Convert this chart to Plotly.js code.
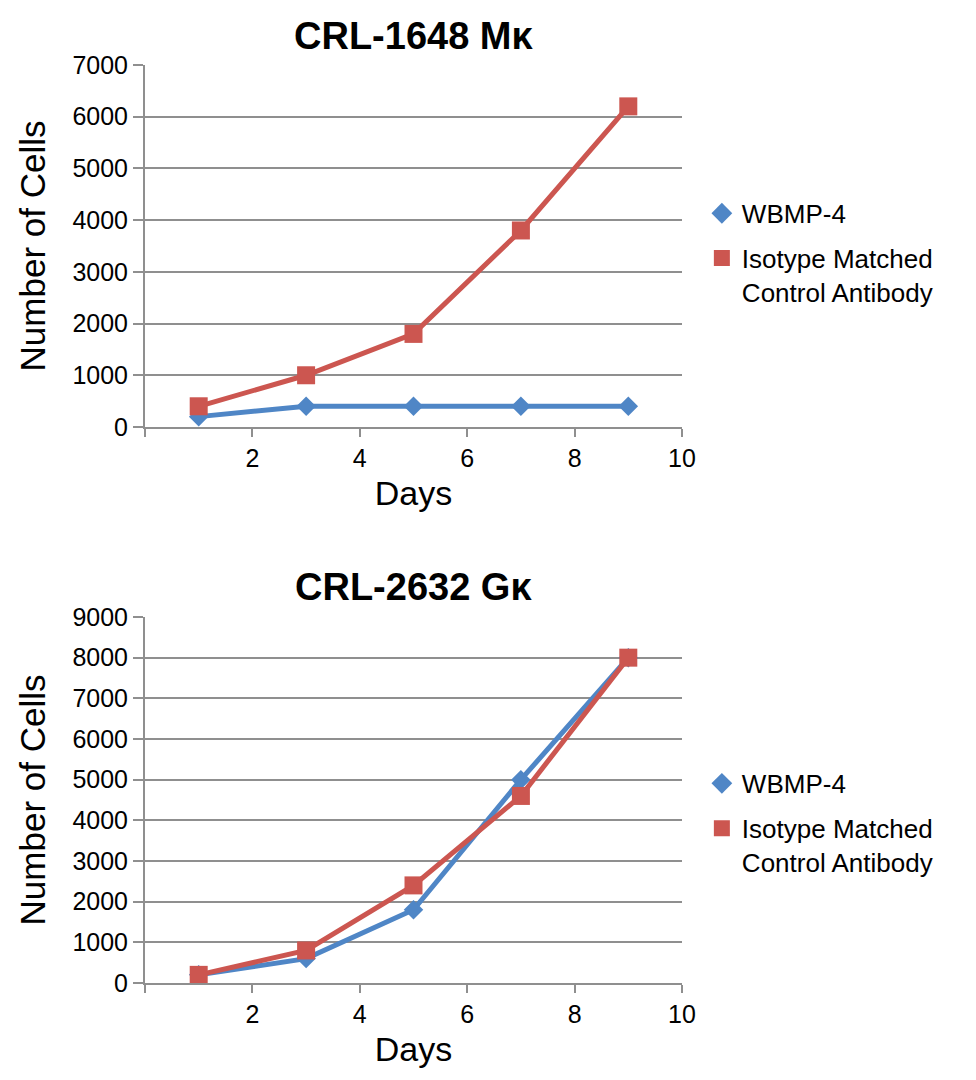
<!DOCTYPE html>
<html>
<head>
<meta charset="utf-8">
<script src="https://cdn.plot.ly/plotly-3.0.1.min.js"></script>
<style>html,body{margin:0;padding:0;background:#fff;}#chart{width:976px;height:1080px;}</style>
</head>
<body>
<div id="chart"></div>
<script>
// ---- data ----
var days = [1, 3, 5, 7, 9];
var seriesNames = ["WBMP-4", "Isotype Matched<br>Control Antibody"];
var panelTitles = ["CRL-1648 M\u03ba", "CRL-2632 G\u03ba"];
var crl1648_wbmp4 = [200, 400, 400, 400, 400];
var crl1648_isotype = [400, 1000, 1800, 3800, 6200];
var crl2632_wbmp4 = [200, 600, 1800, 5000, 8000];
var crl2632_isotype = [200, 800, 2400, 4600, 8000];
var xTickVals = [0, 2, 4, 6, 8, 10];
var xTickText = ["", "2", "4", "6", "8", "10"];
var xAxisTitle = "Days";
var yAxisTitle = "Number of Cells";

// ---- styles ----
var FONT = '"Liberation Sans", Arial, sans-serif';
var BLUE = "#4F86C6";
var RED = "#CC5650";
var GRID = "#8f8f8f";

function lineTrace(y, color, symbol, size, xa, ya) {
  return {
    x: days, y: y, xaxis: xa, yaxis: ya, type: "scatter", mode: "lines+markers",
    line: {color: color, width: 5},
    marker: {color: color, symbol: symbol, size: size},
    showlegend: false, hoverinfo: "x+y"
  };
}
function legendTrace(name, color, symbol, xa, ya, leg, grp) {
  return {
    x: [null], y: [null], xaxis: xa, yaxis: ya, type: "scatter", mode: "markers",
    name: name, marker: {color: color, symbol: symbol, size: 16},
    legend: leg, legendgroup: grp, showlegend: true
  };
}

var data = [
  lineTrace(crl1648_wbmp4, BLUE, "diamond", 15, "x", "y"),
  lineTrace(crl1648_isotype, RED, "square", 18, "x", "y"),
  lineTrace(crl2632_wbmp4, BLUE, "diamond", 15, "x2", "y2"),
  lineTrace(crl2632_isotype, RED, "square", 18, "x2", "y2"),
  legendTrace(seriesNames[0], BLUE, "diamond", "x", "y", "legend", "a"),
  legendTrace(seriesNames[1], RED, "square", "x", "y", "legend", "b"),
  legendTrace(seriesNames[0], BLUE, "diamond", "x2", "y2", "legend2", "c"),
  legendTrace(seriesNames[1], RED, "square", "x2", "y2", "legend2", "d")
];

function xAxis(anchor) {
  return {
    anchor: anchor, domain: [0, 1], range: [0, 10],
    tickmode: "array", tickvals: xTickVals, ticktext: xTickText,
    ticks: "outside", ticklen: 8, tickwidth: 2, tickcolor: GRID,
    showline: true, linecolor: GRID, linewidth: 2,
    showgrid: false, zeroline: false,
    tickfont: {family: FONT, size: 25, color: "#000"},
    title: {text: xAxisTitle, font: {family: FONT, size: 34, color: "#000"}, standoff: 10}
  };
}
function yAxis(anchor, domain, maxv) {
  return {
    anchor: anchor, domain: domain, range: [0, maxv], dtick: 1000,
    ticks: "outside", ticklen: 10, tickwidth: 2, tickcolor: GRID,
    showline: true, linecolor: GRID, linewidth: 2,
    showgrid: true, gridcolor: GRID, gridwidth: 2, zeroline: false,
    tickfont: {family: FONT, size: 25, color: "#000"},
    title: {text: yAxisTitle, font: {family: FONT, size: 35, color: "#000"}, standoff: 16}
  };
}

var legendBase = {
  xref: "paper", yref: "paper", xanchor: "left", yanchor: "top",
  font: {family: FONT, size: 26, color: "#000"},
  bgcolor: "rgba(0,0,0,0)", valign: "top", tracegroupgap: 8,
  itemclick: false, itemdoubleclick: false
};

var layout = {
  width: 976, height: 1080,
  margin: {l: 145, r: 294, t: 65, b: 97},
  paper_bgcolor: "#fff", plot_bgcolor: "#fff",
  font: {family: FONT, color: "#000"},
  xaxis: xAxis("y"),
  yaxis: yAxis("x", [0.6057, 1], 7000),
  xaxis2: xAxis("y2"),
  yaxis2: yAxis("x2", [0, 0.3987], 9000),
  legend: Object.assign({}, legendBase, {x: 1.037, y: 0.864}),
  legend2: Object.assign({}, legendBase, {x: 1.037, y: 0.243}),
  annotations: [
    {text: "<b>" + panelTitles[0] + "</b>", xref: "paper", yref: "paper", x: 0.5, y: 1, yshift: 29,
     xanchor: "center", yanchor: "middle", showarrow: false, font: {family: FONT, size: 38, color: "#000"}},
    {text: "<b>" + panelTitles[1] + "</b>", xref: "paper", yref: "paper", x: 0.5, y: 0.3987, yshift: 30,
     xanchor: "center", yanchor: "middle", showarrow: false, font: {family: FONT, size: 38, color: "#000"}}
  ],
  showlegend: true
};

Plotly.newPlot("chart", data, layout, {displayModeBar: false, responsive: false, staticPlot: true});
</script>
</body>
</html>
